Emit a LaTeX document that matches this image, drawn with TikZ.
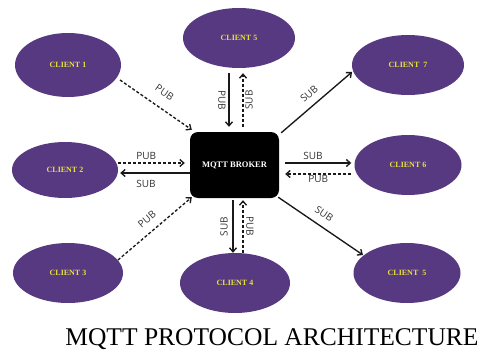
\documentclass[tikz,border=0pt]{standalone}
\usepackage{fontspec}
\setmainfont{Liberation Serif}
\newfontfamily\lblfont{Open Sans}
\usetikzlibrary{shapes.geometric,arrows.meta,calc}
\definecolor{cpurple}{HTML}{573982}
\definecolor{cyellow}{HTML}{E8E03A}
\begin{document}
\begin{tikzpicture}[x=1pt,y=-1pt,
 client/.style={ellipse, fill=cpurple, inner sep=0pt, text=cyellow, font=\fontsize{8}{9}\selectfont\bfseries},
 brokerbox/.style={rectangle, rounded corners=8pt, fill=black, minimum width=89pt, minimum height=66pt, text=white, font=\fontsize{8.5}{10}\selectfont\bfseries},
 solidarr/.style={-{Straight Barb[length=4pt,width=7pt]}, line width=1.35pt, draw=black!90},
 dasharr/.style={solidarr, dash pattern=on 3pt off 2pt},
 lbl/.style={font=\lblfont\fontsize{10}{12}\selectfont, text=black!80, inner sep=1pt}
]
\useasboundingbox (0,0) rectangle (488,351);
\node[client, minimum width=106pt, minimum height=64pt] (c1) at (68,65) {CLIENT 1};
\node[client, minimum width=112pt, minimum height=60pt] (c5t) at (239,38) {CLIENT 5};
\node[client, minimum width=112pt, minimum height=60pt] (c7) at (408,65) {CLIENT\ \ 7};
\node[client, minimum width=107pt, minimum height=60pt] (c6) at (408,165) {CLIENT 6};
\node[client, minimum width=106pt, minimum height=56pt] (c2) at (65,170) {CLIENT 2};
\node[client, minimum width=110pt, minimum height=60pt] (c3) at (68,273) {CLIENT 3};
\node[client, minimum width=110pt, minimum height=60pt] (c4) at (235,283) {CLIENT 4};
\node[client, minimum width=107pt, minimum height=60pt] (c5b) at (407,273) {CLIENT\ \ 5};
\node[brokerbox] (broker) at (234.5,165) {MQTT BROKER};

% client 1
\draw[dasharr] ($(c1.center)+(52,15)$) -- node[lbl, sloped, above=10pt, pos=0.5] (l1) {PUB} ($(broker.north west)+(2,-2)$);
% client 5 top
\draw[solidarr] ($(c5t.south)+(-10,5)$) -- node[lbl, xshift=-7pt, rotate=-90] (l2) {PUB} ($(broker.north)+(-5.5,-5)$);
\draw[dasharr] ($(broker.north)+(8.5,-5)$) -- node[lbl, xshift=6pt, rotate=90] (l3) {SUB} ($(c5t.south)+(4,5)$);
% client 7
\draw[solidarr] ($(broker.north east)+(2,1)$) -- node[lbl, sloped, above=6pt] (l4) {SUB} ($(c7.center)+(-56,7)$);
% client 2
\draw[dasharr] ($(c2.east)+(0,-7)$) -- node[lbl, above=2pt, pos=0.42] (l5) {PUB} ($(broker.west)+(-5,-2)$);
\draw[solidarr] ($(broker.west)+(0,8)$) -- node[lbl, below=6pt, pos=0.63] (l6) {SUB} ($(c2.east)+(2,3)$);
% client 6
\draw[solidarr] ($(broker.east)+(6,-2)$) -- node[lbl, above=2pt, pos=0.42] (l7) {SUB} ($(c6.west)+(-3,-2)$);
\draw[dasharr] ($(c6.west)+(-3,9)$) -- node[lbl, below=0pt, pos=0.5] (l8) {PUB} ($(broker.east)+(6,9)$);
% client 3
\draw[dasharr] ($(c3.center)+(50,-13)$) -- node[lbl, sloped, above=7pt] (l9) {PUB} ($(broker.south west)+(2,-1)$);
% client 4
\draw[solidarr] ($(broker.south)+(-1.5,2)$) -- node[lbl, xshift=-9pt, rotate=90] (l10) {SUB} ($(c4.north)+(-2,0)$);
\draw[dasharr] ($(c4.north)+(8,0)$) -- node[lbl, xshift=7pt, rotate=-90] (l11) {PUB} ($(broker.south)+(8.5,2)$);
% client 5 bottom
\draw[solidarr] ($(broker.south east)+(-1,-1)$) -- node[lbl, sloped, above=7pt, pos=0.46] (l12) {SUB} ($(c5b.center)+(-44,-18)$);

\node[font=\fontsize{25.5}{30}\selectfont, anchor=base, inner sep=0pt] (title) at (272,345) {MQTT PROTOCOL ARCHITECTURE};
\end{tikzpicture}
\end{document}
